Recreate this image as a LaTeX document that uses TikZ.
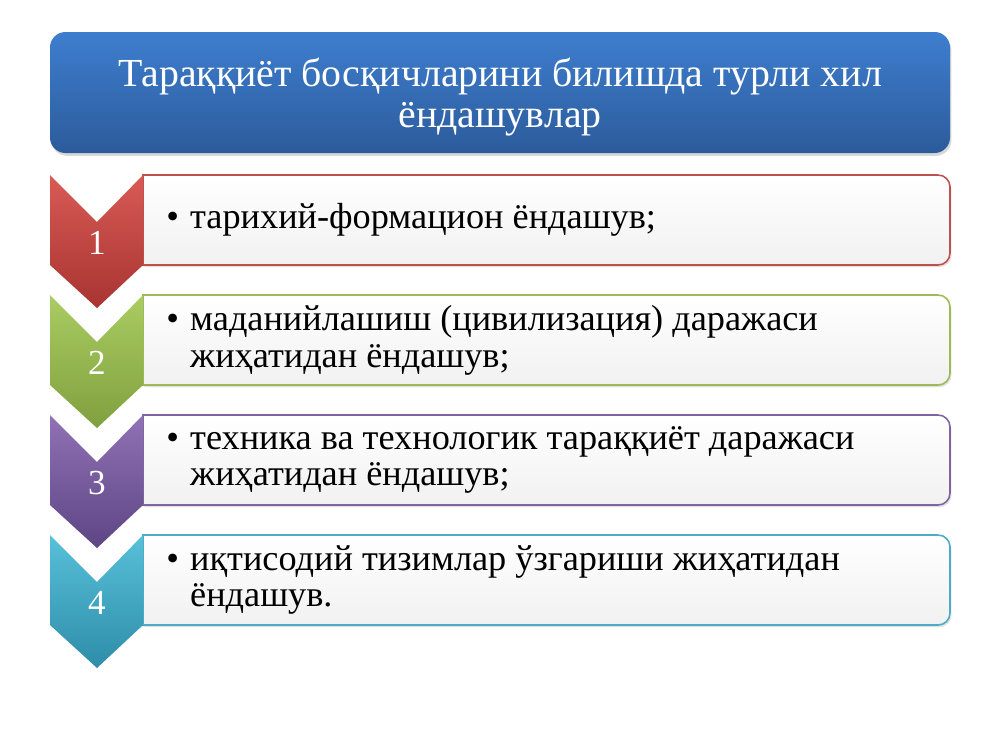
\documentclass[tikz,border=0pt]{standalone}
\usepackage{fontspec}
\setmainfont{Liberation Serif}
\usetikzlibrary{shadows}

\definecolor{azulA}{HTML}{3E7ECF}
\definecolor{azulB}{HTML}{2C5B9B}
\definecolor{vermA}{HTML}{D85A55}
\definecolor{vermB}{HTML}{A83431}
\definecolor{verm}{HTML}{C0504D}
\definecolor{verdeA}{HTML}{AACC62}
\definecolor{verdeB}{HTML}{7FA03E}
\definecolor{verde}{HTML}{9BBB59}
\definecolor{roxoA}{HTML}{9072B5}
\definecolor{roxoB}{HTML}{5E4585}
\definecolor{roxo}{HTML}{8064A2}
\definecolor{cianoA}{HTML}{58C0DA}
\definecolor{cianoB}{HTML}{2E8DA8}
\definecolor{ciano}{HTML}{4BACC6}
\definecolor{cinza}{HTML}{F1F1F1}

\newcommand{\marca}{\makebox[17pt][l]{•}}
\newcommand{\recuo}{\hspace*{17pt}}

\tikzset{
  caixa/.style={draw=#1, line width=1.1pt, top color=white, bottom color=cinza,
    drop shadow={opacity=0.25, shadow xshift=1pt, shadow yshift=-1.5pt}},
  seta/.style 2 args={top color=#1, bottom color=#2},
  numero/.style={text=white, inner sep=0pt, font=\fontsize{25}{25}\selectfont},
  texto/.style={anchor=west, align=left, inner sep=0pt, font=\fontsize{25.8}{26.2}\selectfont},
}

\begin{document}
\begin{tikzpicture}[x=0.025cm, y=-0.025cm]
\useasboundingbox[fill=white] (0,0) rectangle (1000,750);

% Titulo
\path[top color=azulA, bottom color=azulB, rounded corners=11pt,
  drop shadow={opacity=0.3, shadow xshift=1pt, shadow yshift=-2pt}] (50,32) rectangle (950,153);
\node[text=white, align=center, font=\fontsize{28.3}{28.6}\selectfont] (titulo) at (500,97)
  {Тараққиёт босқичларини билишда турли хил\\ёндашувлар};

% Etapa 1
\path[caixa=verm] (143,265) -- (143,175) [rounded corners=8.5pt] -- (950,175) -- (950,265) [sharp corners] -- cycle;
\path[seta={vermA}{vermB}] (50,175) -- (97,222) -- (143,175) -- (143,265) -- (97,308) -- (50,265) -- cycle;
\node[numero] (num1) at (97,243) {1};
\node[texto] (texto1) at (166,220) {\marca тарихий-формацион ёндашув;};

% Etapa 2
\path[caixa=verde] (143,385) -- (143,295) [rounded corners=8.5pt] -- (950,295) -- (950,385) [sharp corners] -- cycle;
\path[seta={verdeA}{verdeB}] (50,295) -- (97,342) -- (143,295) -- (143,385) -- (97,428) -- (50,385) -- cycle;
\node[numero] (num2) at (97,363) {2};
\node[texto] (texto2) at (166,340) {\marca маданийлашиш (цивилизация) даражаси\\\recuo жиҳатидан ёндашув;};

% Etapa 3
\path[caixa=roxo] (143,505) -- (143,415) [rounded corners=8.5pt] -- (950,415) -- (950,505) [sharp corners] -- cycle;
\path[seta={roxoA}{roxoB}] (50,415) -- (97,462) -- (143,415) -- (143,505) -- (97,548) -- (50,505) -- cycle;
\node[numero] (num3) at (97,483) {3};
\node[texto] (texto3) at (166,460) {\marca техника ва технологик тараққиёт даражаси\\\recuo жиҳатидан ёндашув;};

% Etapa 4
\path[caixa=ciano] (143,625) -- (143,535) [rounded corners=8.5pt] -- (950,535) -- (950,625) [sharp corners] -- cycle;
\path[seta={cianoA}{cianoB}] (50,535) -- (97,582) -- (143,535) -- (143,625) -- (97,668) -- (50,625) -- cycle;
\node[numero] (num4) at (97,603) {4};
\node[texto] (texto4) at (166,580) {\marca иқтисодий тизимлар ўзгариши жиҳатидан\\\recuo ёндашув.};

\end{tikzpicture}
\end{document}
